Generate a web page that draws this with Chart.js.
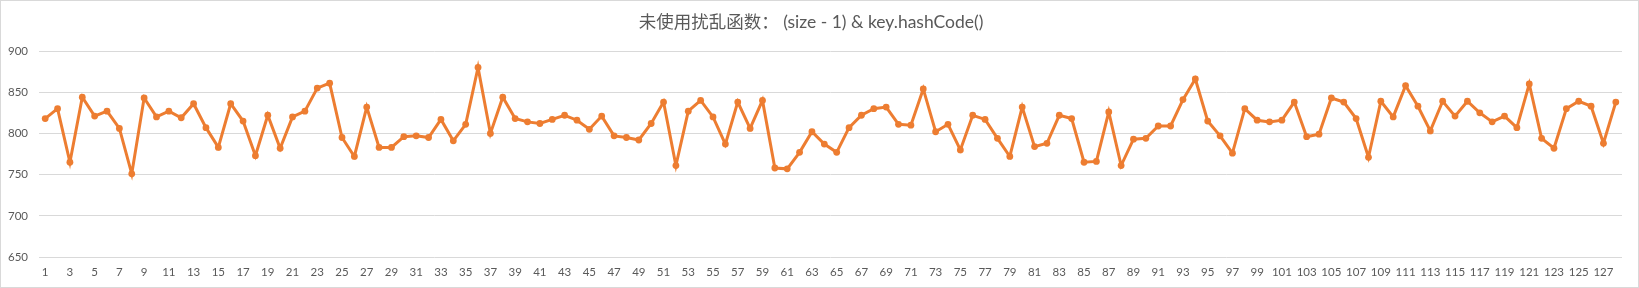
<!DOCTYPE html>
<html>
<head>
<meta charset="utf-8">
<script src="https://cdn.jsdelivr.net/npm/chart.js@4/dist/chart.umd.min.js"></script>
<style>
  html, body { margin: 0; padding: 0; background: #ffffff; }
  #wrap { width: 1639px; height: 288px; position: relative; }
</style>
</head>
<body>
<div id="wrap"><canvas id="c" width="1639" height="288"></canvas></div>
<script>
// Bucket index 1..128 and the number of keys landing in each bucket
const buckets = Array.from({ length: 128 }, (_, i) => String(i + 1));
const counts = [
  818, 830, 765, 844, 821, 827, 806, 751, 843, 820,
  827, 819, 836, 807, 783, 836, 815, 773, 822, 782,
  820, 827, 855, 861, 795, 772, 832, 783, 783, 796,
  797, 795, 817, 791, 811, 880, 800, 844, 818, 814,
  812, 817, 822, 816, 805, 821, 797, 795, 792, 812,
  838, 761, 827, 840, 820, 787, 838, 806, 840, 758,
  757, 777, 802, 787, 777, 807, 822, 830, 832, 811,
  810, 854, 802, 811, 780, 822, 817, 794, 772, 832,
  784, 788, 822, 818, 765, 766, 826, 761, 793, 794,
  809, 809, 841, 866, 815, 797, 776, 830, 816, 814,
  816, 838, 796, 799, 843, 838, 818, 771, 839, 820,
  858, 833, 803, 839, 821, 839, 825, 814, 821, 807,
  860, 794, 782, 830, 839, 833, 788, 838
];
const yTicks = [650, 700, 750, 800, 850, 900];
const titleText = '未使用扰乱函数： (size - 1) & key.hashCode()';

const textColor = '#595959';
const gridColor = '#d9d9d9';
const lineColor = '#ed7d31';
const latinFont = "Lato, 'Noto Sans CJK SC', sans-serif";

// Thin frame round the whole canvas
const framePlugin = {
  id: 'frame',
  afterDraw(chart) {
    const ctx = chart.ctx;
    ctx.save();
    ctx.strokeStyle = gridColor;
    ctx.lineWidth = 1;
    ctx.strokeRect(0.5, 0.5, chart.width - 1, chart.height - 1);
    ctx.restore();
  }
};

new Chart(document.getElementById('c'), {
  type: 'line',
  data: {
    labels: buckets,
    datasets: [{
      data: counts,
      borderColor: lineColor,
      backgroundColor: lineColor,
      borderWidth: 3,
      pointRadius: 3.4,
      pointBorderWidth: 0,
      pointBackgroundColor: lineColor,
      tension: 0,
      fill: false
    }]
  },
  options: {
    responsive: false,
    animation: false,
    devicePixelRatio: 1,
    layout: { padding: { left: 0, right: 17, top: 0, bottom: 0 } },
    plugins: {
      legend: { display: false },
      tooltip: { enabled: false },
      title: {
        display: true,
        text: titleText,
        color: textColor,
        font: { family: latinFont, size: 17.5, weight: 'normal' },
        padding: { top: 12, bottom: 18 }
      }
    },
    scales: {
      x: {
        offset: true,
        grid: { display: false, drawTicks: false },
        border: { display: false },
        afterFit(scale) { scale.height = 31; },
        ticks: {
          autoSkip: false,
          maxRotation: 0,
          minRotation: 0,
          padding: 8,
          color: textColor,
          font: { family: latinFont, size: 11.5 },
          callback(value, index) { return index % 2 === 0 ? buckets[index] : ''; }
        }
      },
      y: {
        min: 650,
        max: 900,
        afterBuildTicks(scale) { scale.ticks = yTicks.map(v => ({ value: v })); },
        afterFit(scale) { scale.width = 39; },
        grid: { color: gridColor, lineWidth: 1, drawTicks: false },
        border: { display: false },
        ticks: {
          padding: 11,
          color: textColor,
          font: { family: latinFont, size: 11.5 }
        }
      }
    }
  },
  plugins: [framePlugin]
});
</script>
</body>
</html>
